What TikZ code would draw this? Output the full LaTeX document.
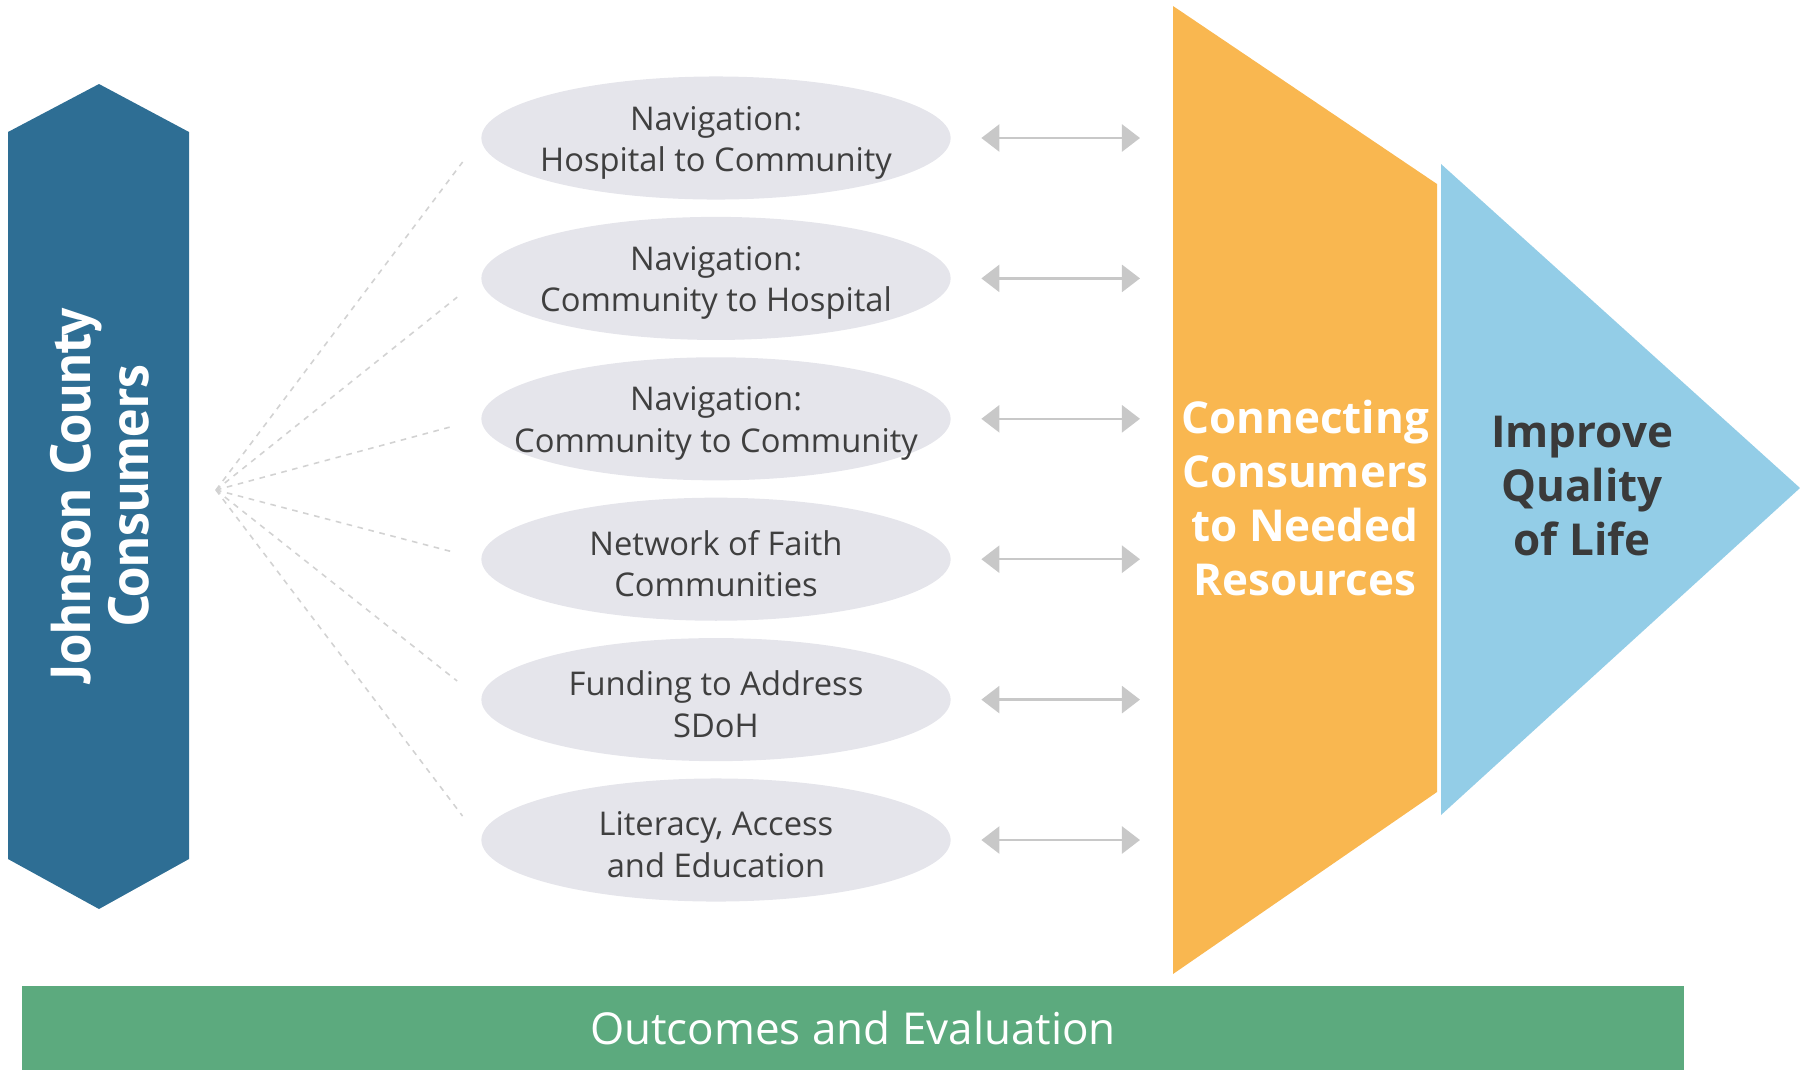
\documentclass[tikz,border=0pt]{standalone}
\usepackage{fontspec}
\setmainfont{Open Sans}
\newfontfamily\narrowfont{PT Sans}
\usepackage{tikz}
\usetikzlibrary{
    arrows.meta,
    positioning,
    shapes.geometric
}

\definecolor{hexblue}{RGB}{46,110,148}
\definecolor{pillgray}{RGB}{229,229,235}
\definecolor{pilltext}{RGB}{63,63,63}
\definecolor{orng}{RGB}{249,183,80}
\definecolor{ltblue}{RGB}{147,205,231}
\definecolor{qoltext}{RGB}{58,58,58}
\definecolor{grn}{RGB}{92,170,126}
\definecolor{arrgray}{RGB}{200,200,200}
\definecolor{fangray}{RGB}{210,210,210}

\begin{document}
\begin{tikzpicture}[x=0.01cm,y=-0.01cm,
    pill/.style={ellipse, fill=pillgray, minimum width=4.69cm,
                 minimum height=1.23cm, inner sep=0pt},
    pilltxt/.style={text=pilltext, align=center, yshift=-1.3pt,
                    font=\fontsize{9.3}{11.7}\selectfont},
    fan/.style={draw=fangray, line width=0.45pt,
                dash pattern=on 1.6pt off 1.6pt, shorten >=0.3cm},
    link/.style={draw=arrgray, line width=0.7pt,
                 {Triangle[length=0.18cm,width=0.27cm]}-{Triangle[length=0.18cm,width=0.27cm]},
                 shorten <=0.3cm, shorten >=0.33cm},
    bigtxt/.style={align=center, font=\bfseries\fontsize{12.5}{15.4}\selectfont}
]

\useasboundingbox (0,0) rectangle (1800,1072);

% Consumers
\fill[hexblue] (8,132)--(99,84)--(189,132)--(189,859)--(99,909)--(8,859)--cycle;
\node[rotate=90, text=white, align=center,
      font=\narrowfont\bfseries\fontsize{16}{16.5}\selectfont]
      (jcc) at (100,496) {Johnson County\\Consumers};

\coordinate (hub) at (216,490);

% Connecting
\fill[orng] (1173,6)--(1437,184)--(1437,792)--(1173,974)--cycle;
\coordinate (orgL) at (1173,0);
\node[bigtxt, text=white] (conn) at (1305,498)
     {Connecting\\Consumers\\to Needed\\Resources};

% Quality of life
\fill[ltblue] (1441,164)--(1800,488)--(1441,815)--cycle;
\node[bigtxt, text=qoltext] (qol) at (1582,486)
     {Improve\\Quality\\of Life};

% Services
\foreach \i/\txt in {
    1/{Navigation:\\Hospital to Community},
    2/{Navigation:\\Community to Hospital},
    3/{Navigation:\\Community to Community},
    4/{Network of Faith\\Communities},
    5/{Funding to Address\\SDoH},
    6/{Literacy, Access\\and Education}}{
    \pgfmathsetmacro{\yy}{138+140.4*(\i-1)}
    \node[pill, label={[pilltxt]center:\txt}] (e\i) at (716,\yy) {};
    \draw[fan] (hub) -- (e\i.west);
    \draw[link] (e\i.east) -- (e\i.east -| orgL);
}

% Outcomes
\node[fill=grn, minimum width=16.61cm, minimum height=0.83cm, inner sep=0pt,
      text=white, font=\fontsize{12.5}{15}\selectfont]
      (outc) at (853,1028) {Outcomes and Evaluation};

\end{tikzpicture}
\end{document}
